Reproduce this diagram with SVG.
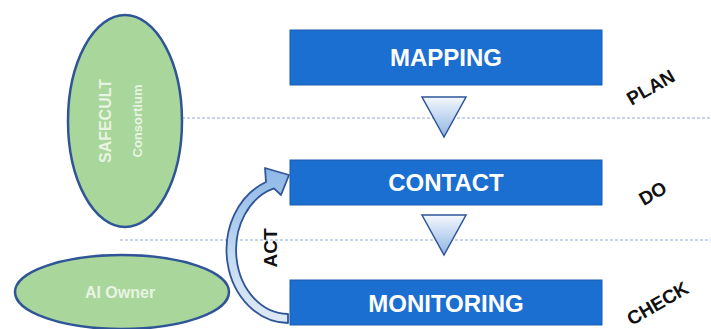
<svg xmlns="http://www.w3.org/2000/svg" width="711" height="329" viewBox="0 0 711 329">
  <style>
    .box { fill: #1b6fd1; stroke: #1a5db0; stroke-width: 1; }
    .boxtext { font-family: "Liberation Sans", Arial, sans-serif; font-weight: bold; font-size: 24px; fill: #ffffff; text-anchor: middle; }
    .oval { fill: #a9d69b; stroke: #2f5597; stroke-width: 2.5; }
    .ovaltext { font-family: "Liberation Sans", Arial, sans-serif; font-weight: bold; fill: #e8f4e2; text-anchor: middle; }
    .phase { font-family: "Liberation Sans", Arial, sans-serif; font-weight: bold; font-size: 19px; fill: #111111; text-anchor: middle; }
    .divider { stroke: #8fa9d6; stroke-width: 1.2; stroke-dasharray: 3 2; fill: none; }
    .tri { fill: url(#triGrad); stroke: #2f5597; stroke-width: 1.5; }
  </style>
  <defs>
    <linearGradient id="triGrad" x1="0" y1="0" x2="0" y2="1">
      <stop offset="0" stop-color="#f4f8fd"/>
      <stop offset="1" stop-color="#8fb4e3"/>
    </linearGradient>
    <linearGradient id="arrowGrad" x1="0" y1="0" x2="0" y2="1">
      <stop offset="0" stop-color="#8db7e6"/>
      <stop offset="0.6" stop-color="#c6dcf3"/>
      <stop offset="1" stop-color="#dfe9f5"/>
    </linearGradient>
  </defs>

  <rect width="711" height="329" fill="#ffffff"/>

  <!-- phase dividers -->
  <g id="dividers">
    <line class="divider" x1="182" y1="118" x2="711" y2="118"/>
    <line class="divider" x1="120" y1="240" x2="711" y2="240"/>
  </g>

  <!-- actors -->
  <g id="consortium">
    <ellipse class="oval" cx="125" cy="121" rx="57" ry="106"/>
    <g transform="translate(125 121) rotate(-90)">
      <text class="ovaltext" x="0" y="-14" font-size="16">SAFECULT</text>
      <text class="ovaltext" x="0" y="17" font-size="13">Consortium</text>
    </g>
  </g>
  <g id="owner">
    <ellipse class="oval" cx="122" cy="292" rx="107" ry="37"/>
    <text class="ovaltext" x="120" y="298" font-size="16">AI Owner</text>
  </g>

  <!-- process steps -->
  <g id="mapping">
    <rect class="box" x="290" y="30" width="312" height="55"/>
    <text class="boxtext" x="446" y="66">MAPPING</text>
  </g>
  <g id="contact">
    <rect class="box" x="290" y="160" width="312" height="45"/>
    <text class="boxtext" x="446" y="191">CONTACT</text>
  </g>
  <g id="monitoring">
    <rect class="box" x="290" y="280" width="312" height="45"/>
    <text class="boxtext" x="446" y="312">MONITORING</text>
  </g>

  <!-- phase labels -->
  <g id="plan"><text class="phase" transform="translate(654 93) rotate(-30)">PLAN</text></g>
  <g id="do"><text class="phase" transform="translate(656 199) rotate(-30)">DO</text></g>
  <g id="check"><text class="phase" transform="translate(661 309) rotate(-30)">CHECK</text></g>

  <!-- connectors -->
  <g id="connectors">
    <polygon class="tri" points="422,97 466,97 444,137"/>
    <polygon class="tri" points="422,215 466,215 444,255"/>
    <!-- curved feedback arrow: outer ellipse c(288,250) r62x73, inner r52x64 -->
    <path d="M 288 323 A 62 73 0 0 1 266 182 L 265 168 L 289 175 L 281 195 L 274 188.4 A 52 64 0 0 0 288 314 Z"
          fill="url(#arrowGrad)" stroke="#2f5597" stroke-width="1.8" stroke-linejoin="round"/>
    <text class="phase" font-size="19" transform="translate(277 248) rotate(-90)">ACT</text>
  </g>
</svg>
